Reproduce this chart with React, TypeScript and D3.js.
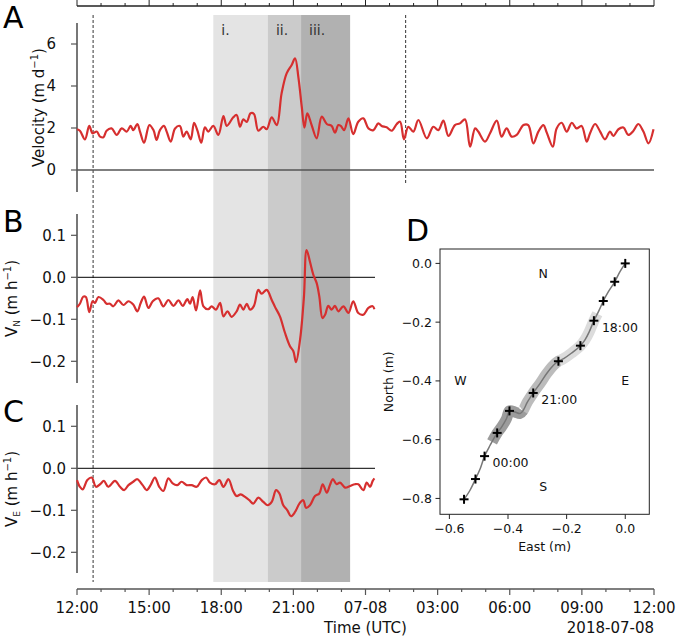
import React from "react";
import * as d3 from "d3";

const W = 677;
const H = 641;
const FONT = "DejaVu Sans, sans-serif";

// ---- time axis (hours since 2018-07-07 12:00 UTC)
const majorHours = [0, 3, 6, 9, 12, 15, 18, 21, 24];
const majorLabels = ["12:00", "15:00", "18:00", "21:00", "07-08", "03:00", "06:00", "09:00", "12:00"];
const minorHours = d3.range(0, 25, 1);

// shaded periods i., ii., iii. (hour boundaries)
const shadeBounds = [5.67, 7.94, 9.32, 11.36];
const shadeLabels = ["i.", "ii.", "iii."];
const dashedHours = [0.67, 13.67];

// ---- Panel A: velocity (m/d)
const velT = [0.0,0.12,0.33,0.51,0.65,0.82,0.96,1.10,1.23,1.44,1.65,1.86,2.07,2.23,2.34,2.51,2.62,2.79,3.01,3.18,3.31,3.45,3.62,3.73,3.90,4.08,4.28,4.42,4.56,4.73,4.87,5.01,5.17,5.32,5.46,5.67,5.88,6.09,6.23,6.50,6.64,6.78,6.92,7.06,7.22,7.36,7.54,7.75,7.89,8.10,8.31,8.51,8.72,8.93,9.07,9.21,9.35,9.46,9.58,9.76,9.97,10.18,10.39,10.59,10.73,10.87,
  10.97,11.11,11.29,11.49,11.70,11.91,12.12,12.33,12.53,12.67,12.88,13.09,13.30,13.44,13.60,13.78,13.99,14.20,14.55,14.82,15.03,15.24,15.45,15.72,15.93,16.14,16.35,16.56,16.69,16.97,17.18,17.46,17.66,17.87,18.08,18.29,18.57,18.77,18.98,19.19,19.40,19.54,19.79,19.95,20.16,20.37,20.58,20.78,20.99,21.20,21.34,21.55,21.76,21.96,22.17,22.31,22.52,22.73,22.93,23.14,23.35,23.56,23.77,23.98];
const velV = [1.94,1.87,1.46,2.10,1.75,1.83,1.59,1.56,1.87,1.98,1.67,1.98,1.83,2.10,1.90,2.19,1.83,1.30,2.14,1.90,1.43,1.90,2.10,1.83,1.35,1.98,2.10,1.59,1.83,1.46,2.25,1.87,1.30,2.03,1.83,2.10,1.67,2.57,2.10,2.51,2.62,2.06,2.41,2.29,2.70,2.67,1.87,2.06,1.94,2.51,2.14,3.65,4.60,5.00,5.32,4.40,3.00,2.02,2.70,2.14,1.51,2.54,2.19,2.10,1.78,2.14,
  2.10,1.90,2.46,1.71,2.30,2.46,1.98,1.90,2.22,2.10,2.03,1.87,2.19,2.30,1.46,2.06,1.83,2.38,1.51,2.06,1.90,2.35,1.62,2.14,2.22,2.41,1.11,1.98,1.83,1.35,1.75,2.35,1.59,1.98,1.59,1.67,2.14,2.14,1.27,1.83,2.14,1.78,1.11,1.98,2.25,1.83,2.25,1.98,2.10,1.35,1.75,2.19,1.83,1.46,1.83,1.62,1.94,2.02,1.67,1.86,2.19,1.83,1.27,1.94];

// ---- Panel B: northward velocity (m/h)
const vnT = [0.0,0.12,0.26,0.37,0.51,0.65,0.75,0.89,1.10,1.23,1.37,1.51,1.72,1.93,2.14,2.34,2.51,2.65,2.79,2.97,3.15,3.38,3.59,3.80,4.01,4.22,4.40,4.59,4.70,4.81,4.95,5.12,5.26,5.46,5.60,5.78,5.95,6.09,6.26,6.43,6.64,6.78,6.92,7.06,7.20,7.36,7.54,7.68,7.89,8.10,8.24,8.44,8.65,8.86,9.00,9.11,9.28,9.44,9.55,9.69,9.83,9.97,10.08,10.21,10.32,10.45,10.59,10.73,10.87,11.08,11.29,11.49,11.70,11.91,12.12,12.30,12.37];
const vnV = [-0.071,-0.063,-0.046,-0.047,-0.083,-0.057,-0.061,-0.047,-0.054,-0.063,-0.063,-0.069,-0.055,-0.066,-0.057,-0.065,-0.081,-0.061,-0.046,-0.073,-0.057,-0.050,-0.069,-0.054,-0.068,-0.055,-0.068,-0.052,-0.063,-0.047,-0.079,-0.031,-0.069,-0.076,-0.069,-0.077,-0.061,-0.093,-0.081,-0.094,-0.081,-0.065,-0.077,-0.063,-0.077,-0.068,-0.030,-0.039,-0.030,-0.054,-0.071,-0.093,-0.132,-0.164,-0.176,-0.202,-0.148,-0.046,0.065,0.037,0.006,-0.014,-0.046,-0.097,-0.089,-0.068,-0.077,-0.068,-0.081,-0.069,-0.085,-0.057,-0.085,-0.089,-0.073,-0.069,-0.076];

// ---- Panel C: eastward velocity (m/h)
const veT = [0.0,0.12,0.24,0.43,0.61,0.79,0.96,1.12,1.30,1.58,1.79,1.96,2.14,2.34,2.51,2.73,2.90,3.06,3.24,3.42,3.59,3.80,3.98,4.17,4.35,4.56,4.77,4.98,5.19,5.37,5.53,5.74,5.92,6.09,6.30,6.48,6.64,6.81,6.99,7.17,7.33,7.54,7.75,7.93,8.10,8.28,8.42,8.58,8.75,8.90,9.07,9.25,9.41,9.53,9.69,9.90,10.08,10.22,10.39,10.52,10.64,10.80,10.94,11.15,11.36,11.56,11.70,11.91,12.05,12.19,12.30,12.37];
const veV = [-0.028,-0.044,-0.050,-0.028,-0.022,-0.044,-0.038,-0.030,-0.044,-0.030,-0.044,-0.052,-0.040,-0.032,-0.026,-0.040,-0.052,-0.040,-0.022,-0.044,-0.054,-0.024,-0.036,-0.040,-0.032,-0.040,-0.040,-0.044,-0.028,-0.022,-0.034,-0.038,-0.028,-0.044,-0.026,-0.052,-0.066,-0.062,-0.068,-0.076,-0.084,-0.070,-0.080,-0.088,-0.080,-0.052,-0.060,-0.088,-0.100,-0.114,-0.104,-0.084,-0.076,-0.094,-0.088,-0.066,-0.060,-0.038,-0.058,-0.040,-0.026,-0.038,-0.034,-0.046,-0.042,-0.038,-0.038,-0.052,-0.034,-0.044,-0.030,-0.024];

// ---- Panel D: displacement track (hour, east m, north m)
const trackT = [3.0,3.5,4.0,4.5,5.0,5.5,6.0,6.4,6.75,7.0,7.35,7.7,8.0,8.2,8.5,8.75,9.0,9.15,9.3,9.45,9.7,10.0,10.3,10.65,11.0,11.5,12.0,12.5,13.0,13.5,14.0];
const trackE = [0,-0.018,-0.036,-0.058,-0.075,-0.089,-0.107,-0.123,-0.138,-0.153,-0.183,-0.210,-0.228,-0.245,-0.268,-0.291,-0.314,-0.334,-0.348,-0.359,-0.376,-0.395,-0.405,-0.422,-0.437,-0.461,-0.480,-0.495,-0.511,-0.530,-0.550];
const trackN = [0,-0.028,-0.0625,-0.097,-0.128,-0.159,-0.195,-0.233,-0.261,-0.280,-0.305,-0.324,-0.333,-0.347,-0.375,-0.409,-0.441,-0.472,-0.500,-0.511,-0.506,-0.502,-0.528,-0.557,-0.577,-0.619,-0.656,-0.699,-0.734,-0.773,-0.803];
const markerHours = [3,4,5,6,7,8,9,10,11,12,13,14];
const markerLabelHours = [6, 9, 12];
const markerLabels = ["18:00", "21:00", "00:00"];
const dXTicks = [-0.6, -0.4, -0.2, 0.0];
const dYTicks = [0.0, -0.2, -0.4, -0.6, -0.8];
const compass = [
  { t: "N", e: -0.28, n: -0.035 },
  { t: "S", e: -0.28, n: -0.76 },
  { t: "W", e: -0.562, n: -0.4 },
  { t: "E", e: -0.0, n: -0.4 },
];

const shadeFill = ["#e4e4e4", "#cbcbcb", "#b1b1b1"];
const bandFill = ["#dcdcdc", "#bcbcbc", "#9c9c9c"];
const RED = "#d62f2f";

const fmtMinus = (v: number, d: number) => {
  const s = Math.abs(v).toFixed(d);
  return v < -1e-9 ? "\u2212" + s : s;
};

function interpTrack(t: number): [number, number] {
  for (let i = 0; i < trackT.length - 1; i++) {
    if (t >= trackT[i] && t <= trackT[i + 1]) {
      const f = (t - trackT[i]) / (trackT[i + 1] - trackT[i]);
      return [trackE[i] + f * (trackE[i + 1] - trackE[i]), trackN[i] + f * (trackN[i + 1] - trackN[i])];
    }
  }
  return [trackE[trackE.length - 1], trackN[trackN.length - 1]];
}
function subTrack(t0: number, t1: number): [number, number][] {
  const pts: [number, number][] = [interpTrack(t0)];
  trackT.forEach((t, i) => {
    if (t > t0 && t < t1) pts.push([trackE[i], trackN[i]]);
  });
  pts.push(interpTrack(t1));
  return pts;
}

export default function App() {
  const x = d3.scaleLinear().domain([0, 24]).range([77, 654]);
  const yA = d3.scaleLinear().domain([-1, 7]).range([191, 23]);
  const yB = d3.scaleLinear().domain([-0.25, 0.15]).range([382.3, 214.3]);
  const yC = d3.scaleLinear().domain([-0.25, 0.15]).range([573.3, 405.3]);
  const xD = d3.scaleLinear().domain([-0.632, 0.082]).range([440, 649.3]);
  const yD = d3.scaleLinear().domain([-0.854, 0.049]).range([514.3, 249]);

  const mkLine = (ys: d3.ScaleLinear<number, number>) =>
    d3.line<[number, number]>().x((d) => x(d[0])).y((d) => ys(d[1])).curve(d3.curveCatmullRom.alpha(0.5));

  const pathA = mkLine(yA)(velT.map((t, i) => [t, velV[i]]))!;
  const pathB = mkLine(yB)(vnT.map((t, i) => [t, vnV[i]]))!;
  const pathC = mkLine(yC)(veT.map((t, i) => [t, veV[i]]))!;

  const trackLine = d3.line<[number, number]>().x((d) => xD(d[0])).y((d) => yD(d[1])).curve(d3.curveCatmullRom.alpha(0.5));
  const trackPath = trackLine(trackT.map((_, i) => [trackE[i], trackN[i]]))!;
  const bands = shadeLabels.map((_, k) => trackLine(subTrack(shadeBounds[k], shadeBounds[k + 1]))!);

  const shadeTop = 15;
  const shadeBottom = 582;
  const spine = "#555";
  const tickFs = 15;

  const yPanels = [
    { ys: yA, ticks: [0, 2, 4, 6], fmt: (v: number) => String(v), labelX: 56, axTop: 23, axBot: 192, zeroEnd: 654, zeroColor: "#555", zeroW: 1.6, path: pathA, letter: "A", letterY: 28, ylabX: 44, ylab: "A" },
    { ys: yB, ticks: [0.1, 0.0, -0.1, -0.2], fmt: (v: number) => fmtMinus(v, 1), labelX: 66, axTop: 214, axBot: 383, zeroEnd: 375, zeroColor: "#000", zeroW: 1, path: pathB, letter: "B", letterY: 232, ylabX: 17, ylab: "N" },
    { ys: yC, ticks: [0.1, 0.0, -0.1, -0.2], fmt: (v: number) => fmtMinus(v, 1), labelX: 66, axTop: 405, axBot: 573, zeroEnd: 375, zeroColor: "#000", zeroW: 1, path: pathC, letter: "C", letterY: 422, ylabX: 17, ylab: "E" },
  ];

  return (
    <svg width={W} height={H} style={{ position: "absolute", left: 0, top: 0, background: "#fff" }} fontFamily={FONT}>
      <rect x={0} y={0} width={W} height={H} fill="#fff" />
      {/* shaded periods */}
      {shadeLabels.map((lab, k) => (
        <rect key={lab} x={x(shadeBounds[k])} y={shadeTop} width={x(shadeBounds[k + 1]) - x(shadeBounds[k])} height={shadeBottom - shadeTop} fill={shadeFill[k]} />
      ))}
      {shadeLabels.map((lab, k) => (
        <text key={"l" + lab} x={x(shadeBounds[k]) + 8} y={34.5} fontSize={14} fill="#333">{lab}</text>
      ))}
      {/* dashed markers */}
      <line x1={x(dashedHours[0])} x2={x(dashedHours[0])} y1={shadeTop} y2={shadeBottom} stroke="#000" strokeWidth={0.8} strokeDasharray="3,2" />
      <line x1={x(dashedHours[1])} x2={x(dashedHours[1])} y1={shadeTop} y2={183} stroke="#000" strokeWidth={0.8} strokeDasharray="3,2" />

      {/* top axis */}
      <line x1={x(0)} x2={x(24)} y1={6} y2={6} stroke="#222" strokeWidth={1.3} />
      {minorHours.map((h) => (
        <line key={"tm" + h} x1={x(h)} x2={x(h)} y1={6} y2={h % 3 === 0 ? 0 : 3} stroke="#222" strokeWidth={1} />
      ))}

      {yPanels.map((p) => (
        <g key={p.letter}>
          <line x1={x(0)} x2={p.zeroEnd} y1={p.ys(0)} y2={p.ys(0)} stroke={p.zeroColor} strokeWidth={p.zeroW} />
          <line x1={77} x2={77} y1={p.axTop} y2={p.axBot} stroke={spine} strokeWidth={1.6} />
          {p.ticks.map((v) => (
            <g key={v}>
              <line x1={71} x2={77} y1={p.ys(v)} y2={p.ys(v)} stroke={spine} strokeWidth={1.2} />
              <text x={p.labelX} y={p.ys(v)} dy="0.36em" textAnchor="end" fontSize={tickFs} fill="#111">{p.fmt(v)}</text>
            </g>
          ))}
          <path d={p.path} fill="none" stroke={RED} strokeWidth={2.2} strokeLinejoin="round" />
          <text x={3} y={p.letterY} fontSize={30} fill="#000">{p.letter}</text>
          <text transform={`translate(${p.ylabX},${(p.axTop + p.axBot) / 2}) rotate(-90)`} textAnchor="middle" fontSize={tickFs} fill="#111">
            {p.ylab === "A" ? (
              <>Velocity (m d<tspan dy="-6" fontSize={10}>{"\u22121"}</tspan><tspan dy="6">)</tspan></>
            ) : (
              <>V<tspan dy="3" fontSize={9}>{p.ylab}</tspan><tspan dy="-3"> (m h</tspan><tspan dy="-6" fontSize={10}>{"\u22121"}</tspan><tspan dy="6">)</tspan></>
            )}
          </text>
        </g>
      ))}

      {/* bottom axis */}
      <line x1={x(0)} x2={x(24)} y1={589} y2={589} stroke={spine} strokeWidth={1.6} />
      {minorHours.map((h) => (
        <line key={"bm" + h} x1={x(h)} x2={x(h)} y1={589} y2={h % 3 === 0 ? 595 : 592} stroke={spine} strokeWidth={1.2} />
      ))}
      {majorHours.map((h, i) => (
        <text key={"bl" + h} x={x(h)} y={612.7} textAnchor="middle" fontSize={tickFs} fill="#111">{majorLabels[i]}</text>
      ))}
      <text x={(x(0) + x(24)) / 2} y={632.5} textAnchor="middle" fontSize={tickFs} fill="#111">Time (UTC)</text>
      <text x={x(24)} y={632.5} textAnchor="end" fontSize={tickFs} fill="#111">2018-07-08</text>

      {/* Panel D */}
      <rect x={440} y={249} width={209.3} height={265.3} fill="#fff" />
      {bands.map((d, k) => (
        <path key={"band" + k} d={d} fill="none" stroke={bandFill[k]} strokeWidth={11} strokeLinejoin="round" strokeLinecap="butt" />
      ))}
      <path d={trackPath} fill="none" stroke="#777" strokeWidth={1.5} />
      {markerHours.map((h) => {
        const [e, n] = interpTrack(h);
        const cx = xD(e), cy = yD(n);
        return (
          <g key={"mk" + h} stroke="#000" strokeWidth={2}>
            <line x1={cx - 4.5} x2={cx + 4.5} y1={cy} y2={cy} />
            <line x1={cx} x2={cx} y1={cy - 4.5} y2={cy + 4.5} />
          </g>
        );
      })}
      {markerLabelHours.map((h, i) => {
        const [e, n] = interpTrack(h);
        return (
          <text key={"ml" + h} x={xD(e) + 8} y={yD(n) + 11} fontSize={12.5} fill="#111">{markerLabels[i]}</text>
        );
      })}
      {compass.map((c) => (
        <text key={c.t} x={xD(c.e)} y={yD(c.n)} dy="0.36em" textAnchor="middle" fontSize={12.5} fill="#111">{c.t}</text>
      ))}
      <rect x={440} y={249} width={209.3} height={265.3} fill="none" stroke="#222" strokeWidth={1} />
      {dXTicks.map((v) => (
        <g key={"dx" + v}>
          <line x1={xD(v)} x2={xD(v)} y1={514.3} y2={519} stroke="#222" strokeWidth={1} />
          <text x={xD(v)} y={528} dy="0.36em" textAnchor="middle" fontSize={12.5} fill="#111">{fmtMinus(v, 1)}</text>
        </g>
      ))}
      {dYTicks.map((v) => (
        <g key={"dy" + v}>
          <line x1={435.5} x2={440} y1={yD(v)} y2={yD(v)} stroke="#222" strokeWidth={1} />
          <text x={432} y={yD(v)} dy="0.36em" textAnchor="end" fontSize={12.5} fill="#111">{fmtMinus(v, 1)}</text>
        </g>
      ))}
      <text x={544.6} y={546.7} dy="0.36em" textAnchor="middle" fontSize={12.5} fill="#111">East (m)</text>
      <text transform={`translate(393,381.7) rotate(-90)`} textAnchor="middle" fontSize={12.5} fill="#111">North (m)</text>
      <text x={406} y={241} fontSize={30} fill="#000">D</text>
    </svg>
  );
}
